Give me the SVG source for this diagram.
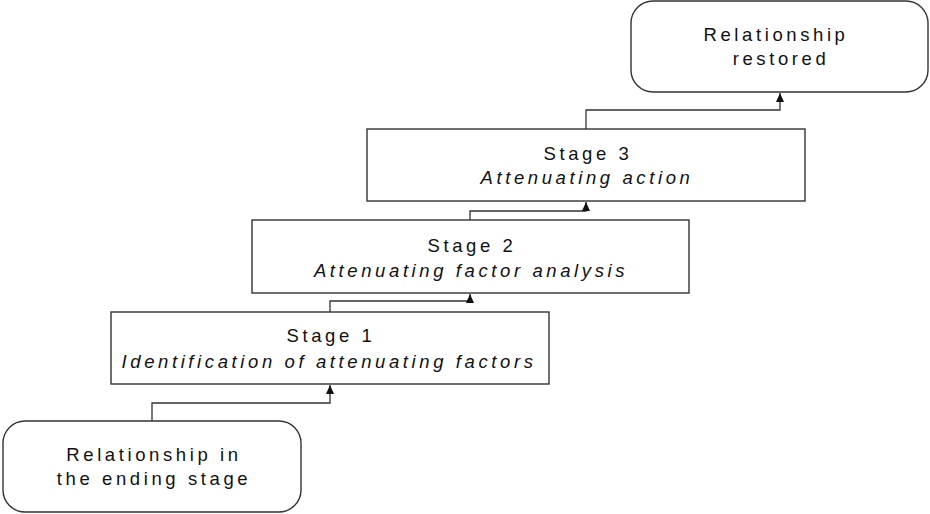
<svg xmlns="http://www.w3.org/2000/svg" width="930" height="514" viewBox="0 0 930 514">
  <style>
    .box { fill: #ffffff; stroke: #333333; stroke-width: 1.4; }
    .lbl { font-family: "Liberation Sans", Arial, sans-serif; font-size: 18.5px; letter-spacing: 3.6px; fill: #111111; text-anchor: middle; }
    .it { font-style: italic; }
    .wire { fill: none; stroke: #333333; stroke-width: 1.3; marker-end: url(#tip); }
  </style>
  <defs>
    <marker id="tip" viewBox="0 0 9 8" refX="9" refY="4" markerWidth="9" markerHeight="8" markerUnits="userSpaceOnUse" orient="auto">
      <path d="M0,0 L9,4 L0,8 Z" fill="#111111"/>
    </marker>
  </defs>

  <!-- connectors: each step rises from the top of one box to the bottom of the next -->
  <g id="connectors">
    <path class="wire" d="M152,421 V403 H330 V385"/>
    <path class="wire" d="M330,312 V301 H470 V294"/>
    <path class="wire" d="M470,220 V211 H586 V202"/>
    <path class="wire" d="M586,129 V110 H780 V93"/>
  </g>

  <g id="start">
    <rect class="box" x="3" y="421" width="298" height="91" rx="22" ry="22"/>
    <text class="lbl" x="154" y="461">Relationship in</text>
    <text class="lbl" x="154" y="485">the ending stage</text>
  </g>

  <g id="stage1">
    <rect class="box" x="111" y="312" width="438" height="72"/>
    <text class="lbl" x="331" y="342">Stage 1</text>
    <text class="lbl it" x="329" y="368">Identification of attenuating factors</text>
  </g>

  <g id="stage2">
    <rect class="box" x="252" y="220" width="437" height="73"/>
    <text class="lbl" x="472" y="252">Stage 2</text>
    <text class="lbl it" x="471" y="277">Attenuating factor analysis</text>
  </g>

  <g id="stage3">
    <rect class="box" x="367" y="129" width="438" height="72"/>
    <text class="lbl" x="588" y="160">Stage 3</text>
    <text class="lbl it" x="587" y="184">Attenuating action</text>
  </g>

  <g id="restored">
    <rect class="box" x="631" y="1" width="297" height="91" rx="22" ry="22"/>
    <text class="lbl" x="776" y="41">Relationship</text>
    <text class="lbl" x="781" y="65">restored</text>
  </g>
</svg>
